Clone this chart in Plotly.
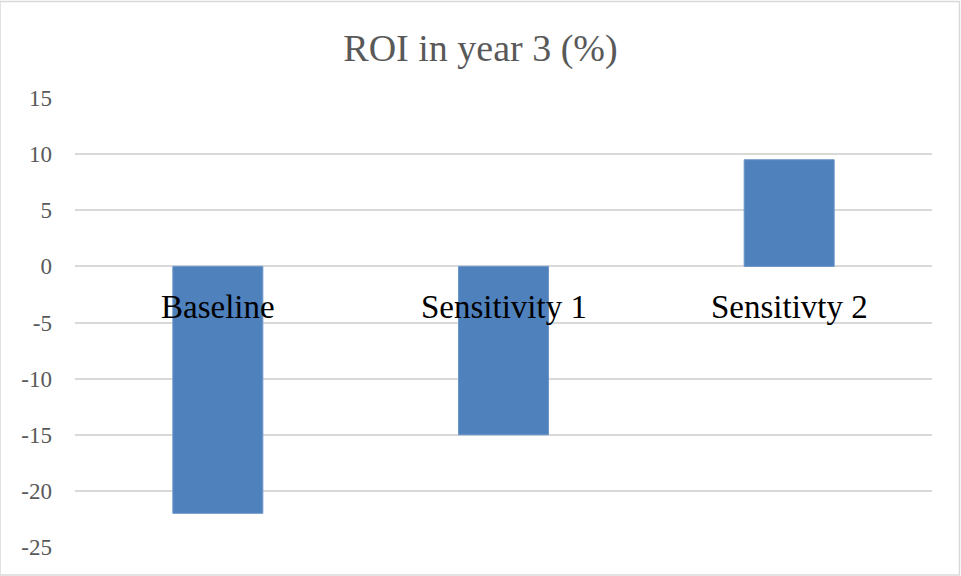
import plotly.graph_objects as go

categories = ["Baseline", "Sensitivity 1", "Sensitivty 2"]
roi_values = [-22.0, -15.0, 9.5]
y_ticks = [15, 10, 5, 0, -5, -10, -15, -20, -25]

serif = "Liberation Serif, Times New Roman, serif"
grey = "#595959"

fig = go.Figure(
    go.Bar(
        x=categories,
        y=roi_values,
        marker=dict(color="#4f81bd", line=dict(color="#6a95c9", width=1)),
        width=0.315,
        hoverinfo="x+y",
    )
)

# Category names sit just under the zero line, as in a spreadsheet chart
for cat in categories:
    fig.add_annotation(
        x=cat, y=0, xref="x", yref="y",
        text=cat, showarrow=False,
        yanchor="middle", yshift=-41,
        font=dict(family=serif, size=33, color="#000000"),
    )

# Thin frame around the whole chart area
fig.add_shape(
    type="rect", xref="paper", yref="paper",
    x0=-75 / 857, x1=(961 - 75 - 1.5) / 857,
    y0=-28 / 449, y1=(449 + 96.5) / 449,
    line=dict(color="#d9d9d9", width=1.5), layer="below",
)

fig.update_layout(
    width=961, height=576,
    margin=dict(l=75, r=29, t=98, b=29),
    paper_bgcolor="white", plot_bgcolor="white",
    font=dict(family=serif, color=grey),
    title=dict(
        text="ROI in year 3 (%)",
        x=0.5, xanchor="center", xref="container",
        y=1 - 48 / 576, yanchor="middle",
        font=dict(family=serif, size=38, color=grey),
    ),
    showlegend=False,
    xaxis=dict(
        showticklabels=False, showgrid=False, zeroline=False,
        showline=False, ticks="",
    ),
    yaxis=dict(
        range=[-25, 15],
        tickmode="array",
        tickvals=y_ticks,
        ticktext=[str(v) for v in y_ticks],
        showgrid=True, gridcolor="#d9d9d9", gridwidth=2,
        zeroline=True, zerolinecolor="#d9d9d9", zerolinewidth=2,
        showline=False, ticks="",
        ticklabelstandoff=22,
        tickfont=dict(family=serif, size=23, color=grey),
    ),
)

fig.write_html("out.html")
